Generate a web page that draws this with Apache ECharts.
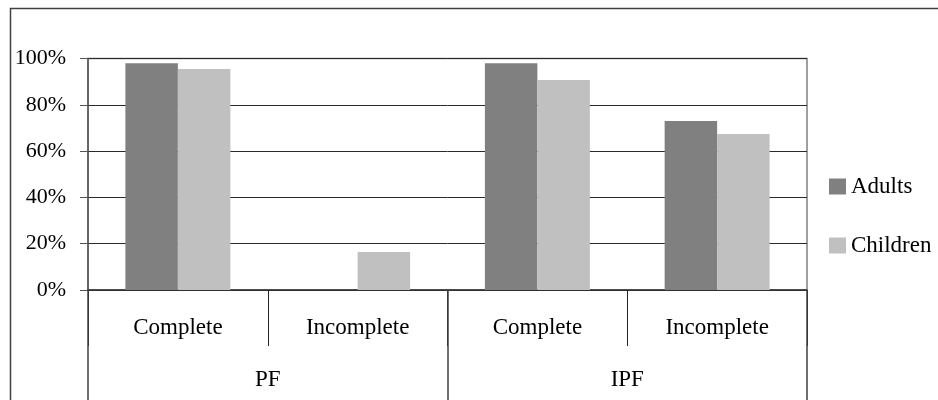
<!DOCTYPE html>
<html>
<head>
<meta charset="utf-8">
<script src="https://cdn.jsdelivr.net/npm/echarts@6/dist/echarts.min.js"></script>
<style>html,body{margin:0;padding:0;background:#fff}#c{width:938px;height:400px}</style>
</head>
<body>
<div id="c"></div>
<script>
const categories = ['Complete', 'Incomplete', 'Complete', 'Incomplete'];
const groups = ['PF', 'IPF'];
const adults = [98, 0, 98, 73];
const children = [95.5, 16.4, 90.7, 67.4];
const yTicks = [0, 20, 40, 60, 80, 100];

const FONT = '"Liberation Serif", "Times New Roman", serif';
const chart = echarts.init(document.getElementById('c'), null, {renderer: 'canvas'});
chart.setOption({
  animation: false,
  backgroundColor: '#fff',
  graphic: [{
    type: 'rect', left: 8, top: 6, shape: {width: 1000, height: 500},
    style: {fill: 'none', stroke: '#404040', lineWidth: 1.5}, silent: true, z: -1
  }],
  grid: {left: 88, right: 131, top: 58.5, bottom: 110, show: true, borderColor: '#808080', borderWidth: 1.5, backgroundColor: 'transparent'},
  legend: {
    orient: 'vertical', left: 829, top: 175, padding: 0, itemWidth: 17, itemHeight: 16, itemGap: 36,
    icon: 'rect',
    textStyle: {fontFamily: FONT, fontSize: 23, color: '#000'},
    data: ['Adults', 'Children']
  },
  xAxis: [{
    type: 'category', data: categories, gridIndex: 0, position: 'bottom',
    axisLine: {show: true, lineStyle: {color: '#333', width: 1.5}},
    axisTick: {show: true, length: 56, interval: 0, lineStyle: {color: '#222', width: 1}},
    axisLabel: {interval: 0, margin: 26, fontFamily: FONT, fontSize: 23, color: '#000'},
    splitLine: {show: false}
  }, {
    type: 'category', data: groups, gridIndex: 0, position: 'bottom',
    axisLine: {show: false},
    axisTick: {show: true, length: 112, interval: 0, lineStyle: {color: '#404040', width: 1.5}},
    axisLabel: {interval: 0, margin: 78, fontFamily: FONT, fontSize: 23, color: '#000'},
    splitLine: {show: false}
  }],
  yAxis: {
    type: 'value', min: 0, max: 100, interval: 20,
    axisLine: {show: true, lineStyle: {color: '#555', width: 1.5}},
    axisTick: {show: true, length: 8, lineStyle: {color: '#555'}},
    axisLabel: {margin: 22, fontFamily: FONT, fontSize: 22, color: '#000', formatter: v => yTicks.includes(v) ? v + '%' : ''},
    splitLine: {show: true, lineStyle: {color: '#2a2a2a', width: 1}}
  },
  series: [{
    name: 'Adults', type: 'bar', data: adults, xAxisIndex: 0, barWidth: '29.2%', barGap: '0%',
    itemStyle: {color: '#808080'}
  }, {
    name: 'Children', type: 'bar', data: children, xAxisIndex: 0, barWidth: '29.2%', barGap: '0%',
    itemStyle: {color: '#C0C0C0'}
  }]
});
</script>
</body>
</html>
